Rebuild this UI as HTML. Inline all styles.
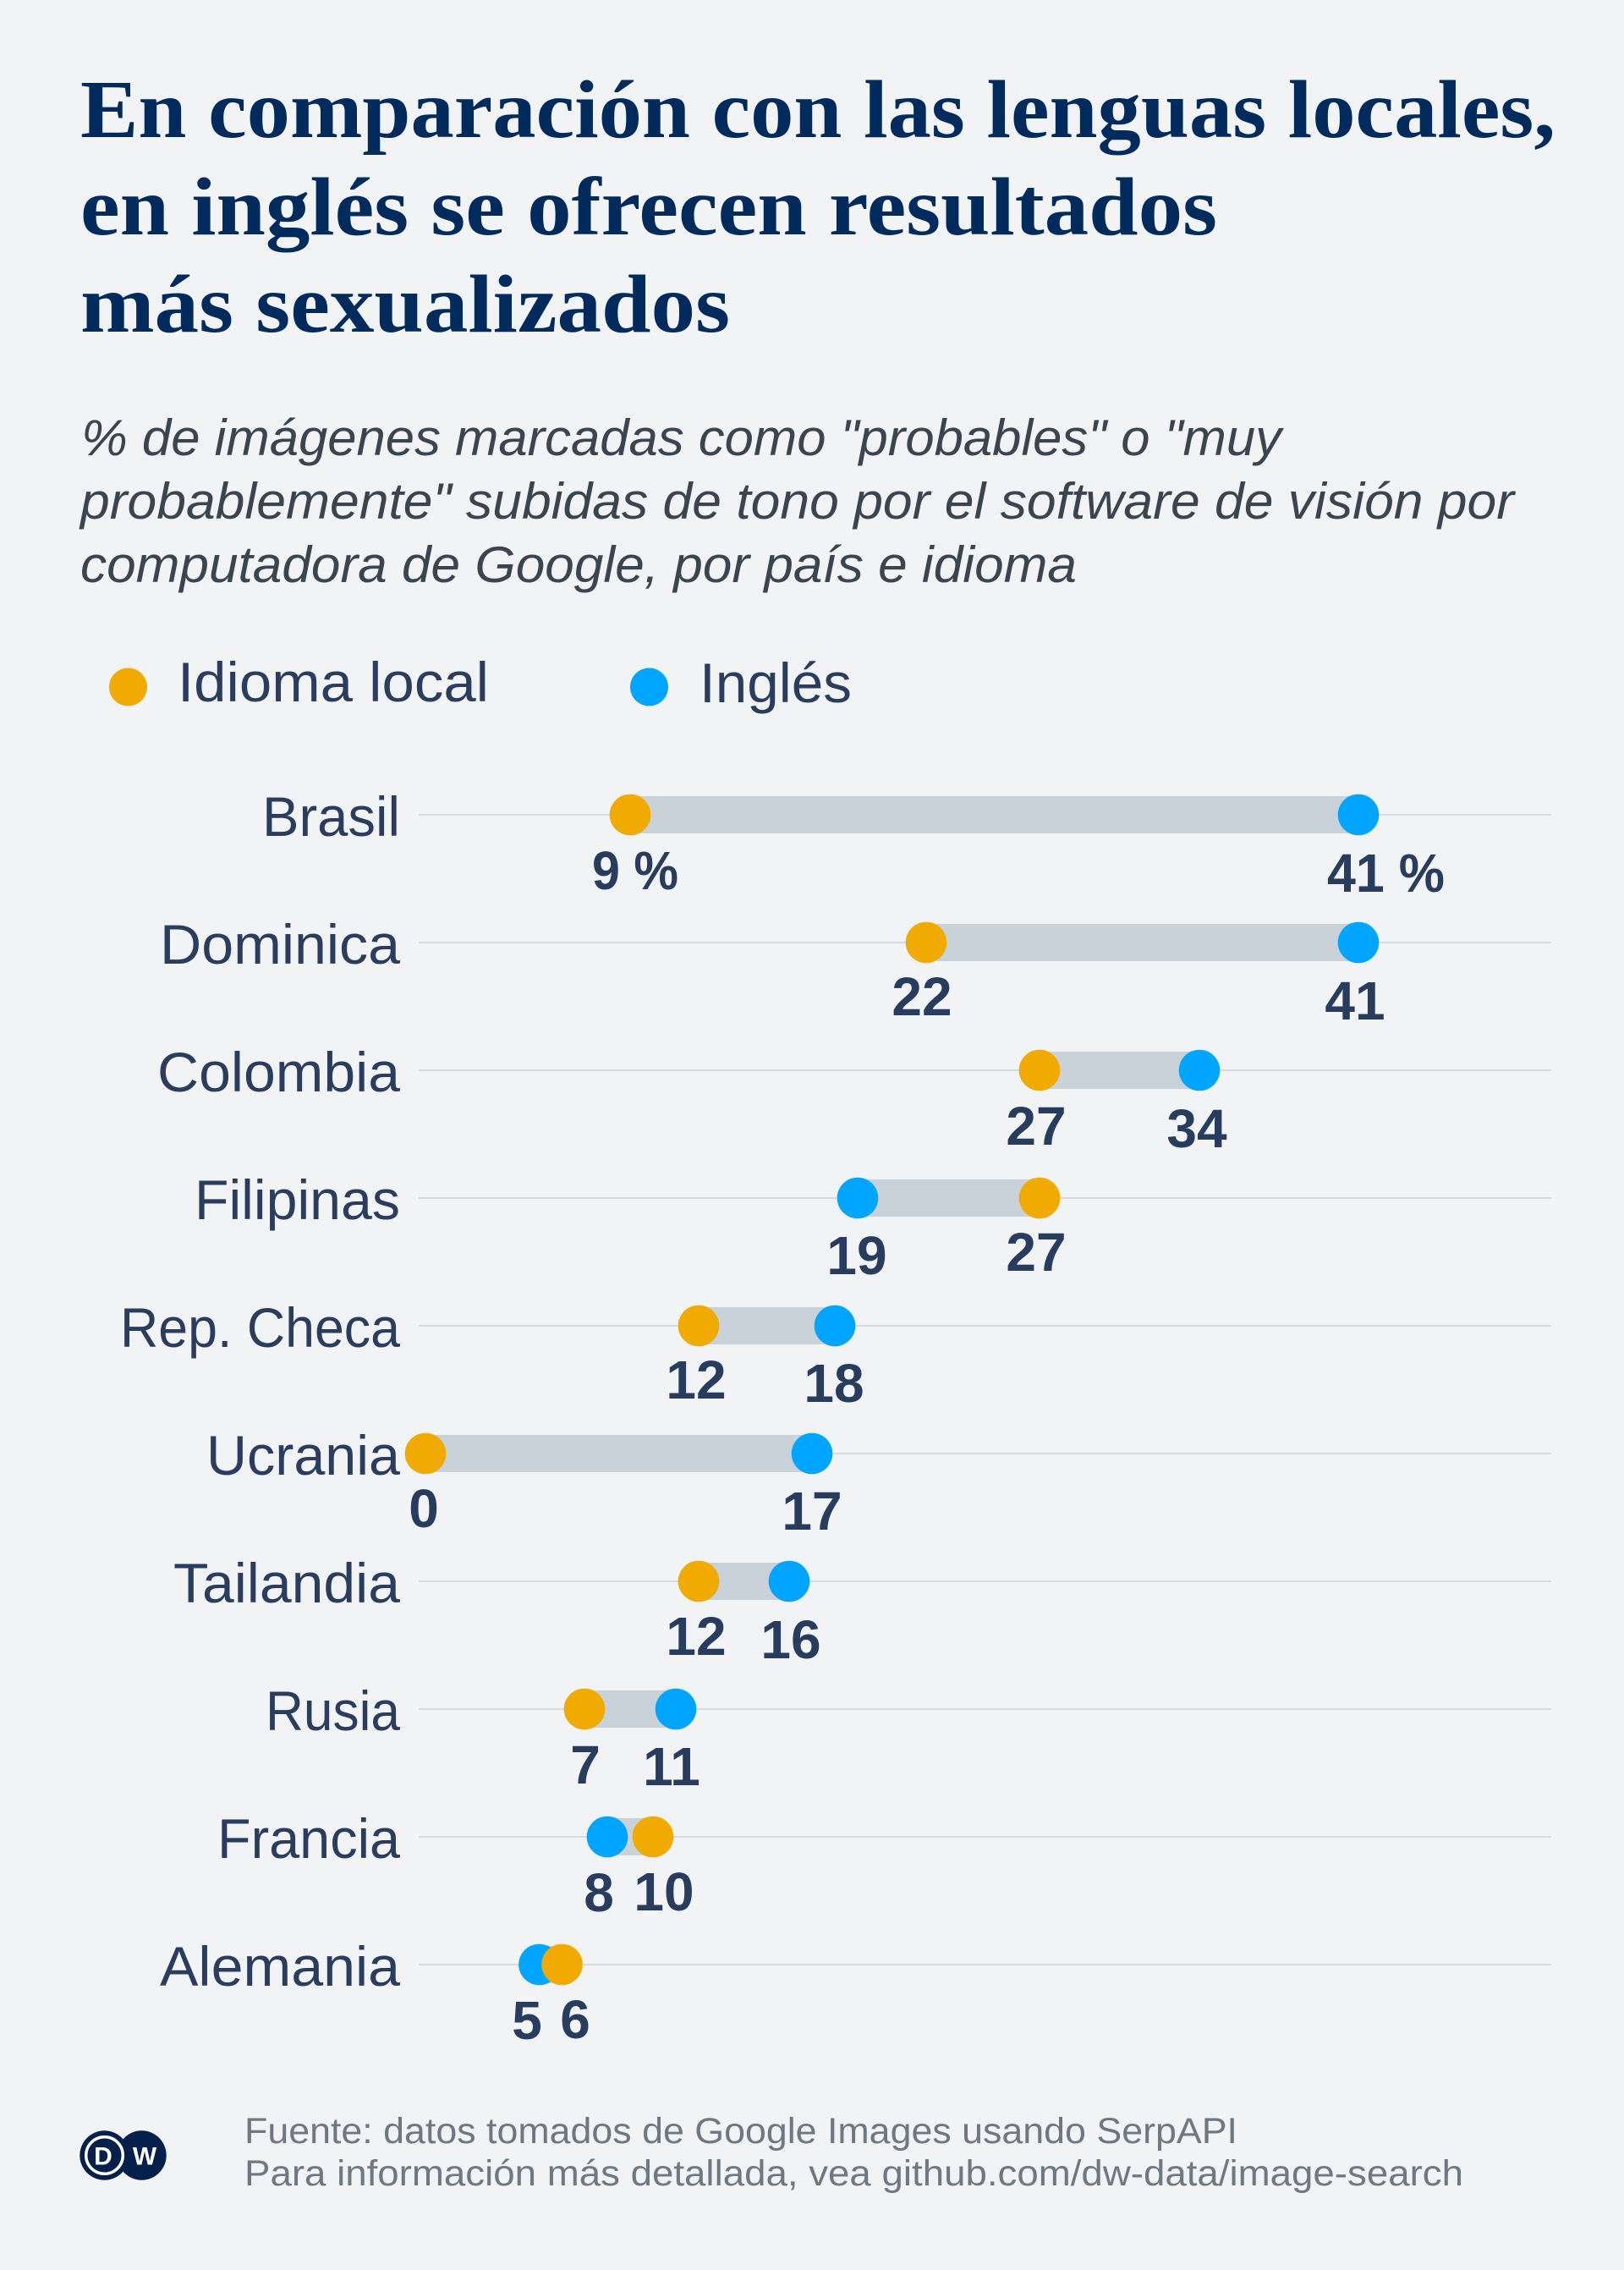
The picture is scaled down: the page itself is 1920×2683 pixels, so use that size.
<!DOCTYPE html>
<html>
<head>
<meta charset="utf-8">
<style>
  html,body{margin:0;padding:0;background:#f1f3f5;}
  svg{display:block;}
  .ttl{font-family:"Liberation Serif",serif;font-weight:bold;font-size:98px;fill:#002b5c;}
  .sub{font-family:"Liberation Sans",sans-serif;font-style:italic;font-size:60px;fill:#3b4550;}
  .lab{font-family:"Liberation Sans",sans-serif;font-size:66px;fill:#2b3d5f;}
  .num{font-family:"Liberation Sans",sans-serif;font-weight:bold;font-size:64px;fill:#283c5e;}
  .foot{font-family:"Liberation Sans",sans-serif;font-size:43px;fill:#6d7882;}
</style>
</head>
<body>
<svg width="1920" height="2683" viewBox="0 0 1920 2683" xmlns="http://www.w3.org/2000/svg">
  <rect x="0" y="0" width="1920" height="2683" fill="#f1f3f5"/>

  <!-- Title -->
  <text class="ttl" x="95" y="162" textLength="1744" lengthAdjust="spacingAndGlyphs">En comparación con las lenguas locales,</text>
  <text class="ttl" x="95" y="277" textLength="1344" lengthAdjust="spacingAndGlyphs">en inglés se ofrecen resultados</text>
  <text class="ttl" x="95" y="392" textLength="768" lengthAdjust="spacingAndGlyphs">más sexualizados</text>

  <!-- Subtitle -->
  <text class="sub" x="96" y="538" textLength="1419" lengthAdjust="spacingAndGlyphs">% de imágenes marcadas como "probables" o "muy</text>
  <text class="sub" x="95" y="613" textLength="1695" lengthAdjust="spacingAndGlyphs">probablemente" subidas de tono por el software de visión por</text>
  <text class="sub" x="95" y="688" textLength="1178" lengthAdjust="spacingAndGlyphs">computadora de Google, por país e idioma</text>

  <!-- Legend -->
  <circle cx="151.5" cy="812" r="22.5" fill="#f0aa00"/>
  <text class="lab" x="210" y="829" textLength="368" lengthAdjust="spacingAndGlyphs">Idioma local</text>
  <circle cx="767.5" cy="812" r="22.5" fill="#00a5ff"/>
  <text class="lab" x="827" y="830" textLength="180" lengthAdjust="spacingAndGlyphs">Inglés</text>

  <!-- Gridlines -->
  <g stroke="#d7dbe0" stroke-width="2">
    <line x1="495" y1="963" x2="1834" y2="963"/>
    <line x1="495" y1="1114" x2="1834" y2="1114"/>
    <line x1="495" y1="1265" x2="1834" y2="1265"/>
    <line x1="495" y1="1416" x2="1834" y2="1416"/>
    <line x1="495" y1="1567" x2="1834" y2="1567"/>
    <line x1="495" y1="1718" x2="1834" y2="1718"/>
    <line x1="495" y1="1869" x2="1834" y2="1869"/>
    <line x1="495" y1="2020" x2="1834" y2="2020"/>
    <line x1="495" y1="2171" x2="1834" y2="2171"/>
    <line x1="495" y1="2322" x2="1834" y2="2322"/>
  </g>

  <!-- Bars -->
  <g fill="#cad2d9">
    <rect x="745" y="941" width="861" height="44"/>
    <rect x="1095" y="1092" width="511" height="44"/>
    <rect x="1229" y="1243" width="189" height="44"/>
    <rect x="1014" y="1394" width="215" height="44"/>
    <rect x="826" y="1545" width="161" height="44"/>
    <rect x="503" y="1696" width="457" height="44"/>
    <rect x="826" y="1847" width="107" height="44"/>
    <rect x="691" y="1998" width="108" height="44"/>
    <rect x="718" y="2149" width="54" height="44"/>
    <rect x="637" y="2300" width="27" height="44"/>
  </g>

  <!-- English (blue) dots -->
  <g fill="#00a5ff">
    <circle cx="1606" cy="963" r="24.3"/>
    <circle cx="1606" cy="1114" r="24.3"/>
    <circle cx="1418" cy="1265" r="24.3"/>
    <circle cx="1014" cy="1416" r="24.3"/>
    <circle cx="987" cy="1567" r="24.3"/>
    <circle cx="960" cy="1718" r="24.3"/>
    <circle cx="933" cy="1869" r="24.3"/>
    <circle cx="799" cy="2020" r="24.3"/>
    <circle cx="718" cy="2171" r="24.3"/>
    <circle cx="637.5" cy="2322" r="24.3"/>
  </g>
  <!-- Local (orange) dots -->
  <g fill="#f0aa00">
    <circle cx="745" cy="963" r="24.3"/>
    <circle cx="1095" cy="1114" r="24.3"/>
    <circle cx="1229" cy="1265" r="24.3"/>
    <circle cx="1229" cy="1416" r="24.3"/>
    <circle cx="826" cy="1567" r="24.3"/>
    <circle cx="503" cy="1718" r="24.3"/>
    <circle cx="826" cy="1869" r="24.3"/>
    <circle cx="691" cy="2020" r="24.3"/>
    <circle cx="772" cy="2171" r="24.3"/>
    <circle cx="664.5" cy="2322" r="24.3"/>
  </g>

  <!-- Country labels -->
  <g class="lab" text-anchor="end">
    <text x="473" y="988" textLength="163" lengthAdjust="spacingAndGlyphs">Brasil</text>
    <text x="473" y="1139" textLength="284" lengthAdjust="spacingAndGlyphs">Dominica</text>
    <text x="473" y="1290" textLength="287" lengthAdjust="spacingAndGlyphs">Colombia</text>
    <text x="473" y="1441" textLength="243" lengthAdjust="spacingAndGlyphs">Filipinas</text>
    <text x="473" y="1592" textLength="331" lengthAdjust="spacingAndGlyphs">Rep. Checa</text>
    <text x="473" y="1743" textLength="229" lengthAdjust="spacingAndGlyphs">Ucrania</text>
    <text x="473" y="1894" textLength="268" lengthAdjust="spacingAndGlyphs">Tailandia</text>
    <text x="473" y="2045" textLength="159" lengthAdjust="spacingAndGlyphs">Rusia</text>
    <text x="473" y="2196" textLength="216" lengthAdjust="spacingAndGlyphs">Francia</text>
    <text x="473" y="2347" textLength="284" lengthAdjust="spacingAndGlyphs">Alemania</text>
  </g>

  <!-- Value labels -->
  <g class="num">
    <text x="700" y="1051" textLength="102" lengthAdjust="spacingAndGlyphs">9 %</text>
    <text x="1569" y="1054" textLength="139" lengthAdjust="spacingAndGlyphs">41 %</text>
  </g>
  <g class="num" text-anchor="middle">
    <text x="1090" y="1200">22</text>
    <text x="1602" y="1205">41</text>
    <text x="1225" y="1353">27</text>
    <text x="1415" y="1356">34</text>
    <text x="1013" y="1506">19</text>
    <text x="1225" y="1502">27</text>
    <text x="823" y="1653">12</text>
    <text x="986" y="1657">18</text>
    <text x="501" y="1805">0</text>
    <text x="960" y="1808">17</text>
    <text x="823" y="1956">12</text>
    <text x="935" y="1960">16</text>
    <text x="692" y="2108">7</text>
    <text x="794" y="2110">11</text>
    <text x="708" y="2259">8</text>
    <text x="785" y="2258">10</text>
    <text x="623" y="2410">5</text>
    <text x="680" y="2409">6</text>
  </g>

  <!-- DW logo -->
  <circle cx="167.5" cy="2547.5" r="29.2" fill="#05204a"/>
  <circle cx="123.5" cy="2547.5" r="29.2" fill="#05204a"/>
  <circle cx="123.5" cy="2547.5" r="21.8" fill="none" stroke="#ffffff" stroke-width="3.5"/>
  <text x="122" y="2558.5" text-anchor="middle" font-family="Liberation Sans, sans-serif" font-weight="bold" font-size="30" fill="#ffffff">D</text>
  <text x="171" y="2558.5" text-anchor="middle" font-family="Liberation Sans, sans-serif" font-weight="bold" font-size="30" fill="#ffffff">W</text>

  <!-- Footer -->
  <text class="foot" x="289" y="2533" textLength="1174" lengthAdjust="spacingAndGlyphs">Fuente: datos tomados de Google Images usando SerpAPI</text>
  <text class="foot" x="289" y="2583" textLength="1441" lengthAdjust="spacingAndGlyphs">Para información más detallada, vea github.com/dw-data/image-search</text>
</svg>
</body>
</html>
